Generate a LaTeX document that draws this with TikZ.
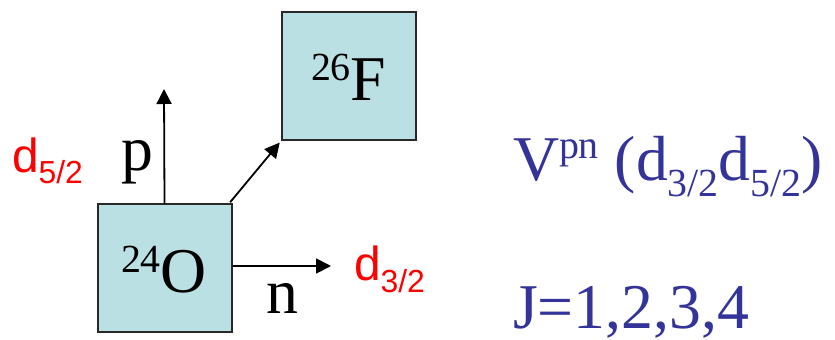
\documentclass[tikz,border=0pt]{standalone}
\usepackage{fontspec}
\setmainfont{Liberation Serif}
\newfontfamily\arialf{Liberation Sans}
\usetikzlibrary{arrows.meta}
\definecolor{boxfill}{RGB}{187,224,227}
\definecolor{vblue}{RGB}{51,51,153}
\definecolor{edgegray}{RGB}{40,40,40}
\newcommand{\bigtm}{\fontsize{64}{64}\selectfont}
\newcommand{\suptm}[1]{\raisebox{20bp}{\fontsize{40}{40}\selectfont #1}}
\newcommand{\redsub}[2]{{\arialf\fontsize{48}{48}\selectfont d\raisebox{-#2}{\fontsize{32}{32}\selectfont #1}}}
\tikzset{
  nucbox/.style={draw=edgegray, line width=2bp, fill=boxfill, minimum width=134bp, minimum height=128bp, inner sep=0pt},
  lab/.style={inner sep=0pt, outer sep=0pt},
  arr/.style={line width=1.8bp, -{Triangle[length=15bp,width=15bp]}},
}
\begin{document}
\begin{tikzpicture}[x=1bp,y=-1bp]
\useasboundingbox (0,0) rectangle (835,339);
\node[nucbox] (O) at (164.5,268) {};
\node[nucbox] (F) at (349,76) {};
\node[lab, anchor=base west] (Olab) at (121,292) {\bigtm\suptm{24}O};
\node[lab, anchor=base west] (Flab) at (311,100) {\bigtm\suptm{26}F};
\coordinate (ptip) at (164,89);
\coordinate (ntip) at (331,266);
\draw[arr] (O.north) -- (ptip);
\draw[arr] ([yshift=2bp]O.east) -- (ntip);
\draw[arr, shorten <=1bp, shorten >=2bp] ([xshift=-3bp]O.north east) -- (F.south west);
\node[lab, anchor=base] (p) at (137,170) {\bigtm p};
\node[lab, anchor=base] (n) at (282,313) {\bigtm n};
\node[lab, anchor=base west, text=red] (d52) at (12,172) {\redsub{5/2}{11bp}};
\node[lab, anchor=base west, text=red] (d32) at (354,280) {\redsub{3/2}{12bp}};
\node[lab, anchor=base west, text=vblue] (V) at (513,180) {\bigtm V\raisebox{22bp}{\fontsize{40}{40}\selectfont pn} (d\raisebox{-16bp}{\fontsize{40}{40}\selectfont 3/2}d\raisebox{-16bp}{\fontsize{40}{40}\selectfont 5/2})};
\node[lab, anchor=base west, text=vblue] (J) at (513,328) {\bigtm J=1,2,3,4};
\end{tikzpicture}
\end{document}
